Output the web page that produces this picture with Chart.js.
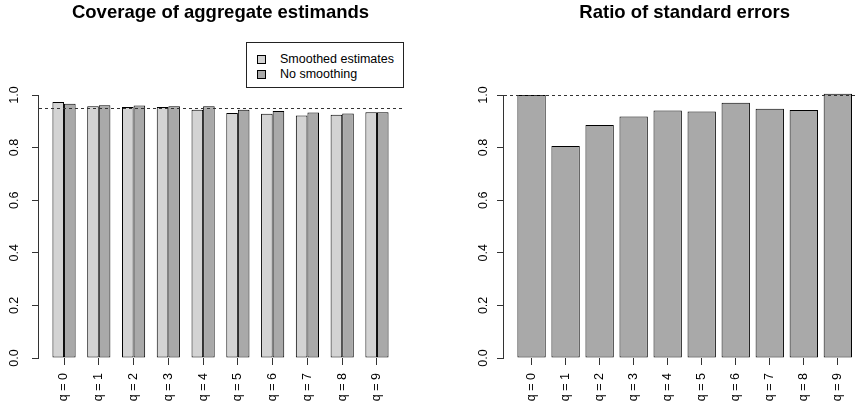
<!DOCTYPE html>
<html>
<head>
<meta charset="utf-8">
<script src="https://cdn.jsdelivr.net/npm/chart.js@4.4.1/dist/chart.umd.min.js"></script>
<style>
  html, body { margin:0; padding:0; background:#fff; overflow:hidden; width:856px; height:405px; }
  #wrap { position:relative; width:856px; height:405px; overflow:hidden; }
  #c1 { position:absolute; left:0; top:0; }
  #c2 { position:absolute; left:440px; top:0; }
  #legend { position:absolute; left:246px; top:42px; width:158px; height:46px; box-sizing:border-box;
            border:1px solid #222; background:#fff; font:12.5px "Liberation Sans", Arial, sans-serif; color:#000; }
  .row { position:absolute; left:0; height:14px; line-height:14px; white-space:nowrap; }
  .sw { position:absolute; left:10px; top:3px; width:7px; height:7px; border:1px solid #000; }
  .lab { position:absolute; left:33px; top:0; }
</style>
</head>
<body>
<div id="wrap">
  <canvas id="c1" width="440" height="405"></canvas>
  <canvas id="c2" width="489" height="405"></canvas>
  <div id="legend"></div>
</div>
<script>
// ---- data ----
const categories = ['q = 0','q = 1','q = 2','q = 3','q = 4','q = 5','q = 6','q = 7','q = 8','q = 9'];
const smoothedCoverage    = [0.973, 0.957, 0.954, 0.954, 0.944, 0.932, 0.929, 0.922, 0.925, 0.934];
const noSmoothingCoverage = [0.967, 0.961, 0.960, 0.957, 0.957, 0.944, 0.939, 0.933, 0.930, 0.934];
const seRatio             = [1.000, 0.806, 0.886, 0.918, 0.941, 0.937, 0.971, 0.948, 0.943, 1.005];
const yTickValues = [0, 0.2, 0.4, 0.6, 0.8, 1.0];
const seriesNames = ['Smoothed estimates', 'No smoothing'];
const chartTitles = ['Coverage of aggregate estimands', 'Ratio of standard errors'];
const nominalCoverage = 0.95;
const ratioReference = 1.0;

// ---- styles ----
const FONT = '"Liberation Sans", Arial, Helvetica, sans-serif';
const colSmoothed = '#d3d3d3';
const colNoSmooth = '#a9a9a9';

const refLinePlugin = {
  id: 'refLine',
  afterDatasetsDraw(chart, args, opts) {
    const y = Math.round(chart.scales.y.getPixelForValue(opts.value)) + 0.5;
    const ctx = chart.ctx;
    ctx.save();
    ctx.beginPath();
    ctx.setLineDash([3, 3]);
    ctx.strokeStyle = '#333';
    ctx.lineWidth = 1;
    ctx.moveTo(chart.chartArea.left, y);
    ctx.lineTo(chart.chartArea.right, y);
    ctx.stroke();
    ctx.restore();
  }
};
const yAxisLinePlugin = {
  id: 'yAxisLine',
  afterDraw(chart) {
    const s = chart.scales.y;
    const x = Math.round(s.right) - 0.5;
    const ctx = chart.ctx;
    ctx.save();
    ctx.beginPath();
    ctx.strokeStyle = '#333';
    ctx.lineWidth = 1;
    ctx.moveTo(x, Math.round(s.getPixelForValue(yTickValues[0])) + 0.5);
    ctx.lineTo(x, Math.round(s.getPixelForValue(yTickValues[yTickValues.length - 1])) + 0.5);
    ctx.stroke();
    ctx.restore();
  }
};
// centre the title over the plot region (as R does)
const titleOverPlotPlugin = {
  id: 'titleOverPlot',
  afterLayout(chart) {
    const t = chart.titleBlock;
    if (!t) return;
    t.left = chart.chartArea.left;
    t.right = chart.chartArea.right;
    t.width = t.right - t.left;
  }
};

function yScale(width, pad) {
  return {
    type: 'linear', min: 0, max: 1.2,
    afterBuildTicks(s) { s.ticks = yTickValues.map(v => ({ value: v })); },
    afterFit(s) { s.width = width; },
    grid: { drawOnChartArea: false, drawTicks: true, tickLength: 7, color: '#333', lineWidth: 1 },
    border: { display: false },
    ticks: { minRotation: 90, maxRotation: 90, crossAlign: 'center', padding: pad, color: '#000',
             font: { family: FONT, size: 12.5 }, callback: v => Number(v).toFixed(1) }
  };
}
function xScale(min, max) {
  return {
    type: 'linear', min: min, max: max, offset: false,
    afterBuildTicks(s) { s.ticks = categories.map((c, i) => ({ value: i })); },
    afterFit(s) { s.height = 47; },
    grid: { offset: false, drawOnChartArea: false, drawTicks: true, tickLength: 7, color: '#333', lineWidth: 1 },
    border: { display: false },
    ticks: { autoSkip: false, includeBounds: false, minRotation: 90, maxRotation: 90, padding: 8, color: '#000',
             font: { family: FONT, size: 12.5 },
             callback: v => (Number.isInteger(v) ? categories[v] : '') }
  };
}
function titleOpts(text) {
  return { display: true, text: text, color: '#000',
           font: { family: FONT, size: 18.5, weight: 'bold' }, padding: { top: 2, bottom: 18.2 } };
}

Chart.defaults.animation = false;

new Chart(document.getElementById('c1'), {
  type: 'bar',
  data: {
    datasets: [
      { label: seriesNames[0], data: smoothedCoverage.map((v, i) => ({ x: i, y: v })),
        backgroundColor: colSmoothed, borderColor: '#000', borderWidth: 1, borderSkipped: false,
        categoryPercentage: 2/3, barPercentage: 1 },
      { label: seriesNames[1], data: noSmoothingCoverage.map((v, i) => ({ x: i, y: v })),
        backgroundColor: colNoSmooth, borderColor: '#000', borderWidth: 1, borderSkipped: false,
        categoryPercentage: 2/3, barPercentage: 1 }
    ]
  },
  options: {
    responsive: false, devicePixelRatio: 1,
    layout: { padding: { left: 0, right: 38, top: 0, bottom: 0 } },
    scales: { x: xScale(-0.72, 9.72), y: yScale(39, 9) },
    plugins: { legend: { display: false }, tooltip: { enabled: false },
               title: titleOpts(chartTitles[0]), refLine: { value: nominalCoverage } }
  },
  plugins: [refLinePlugin, yAxisLinePlugin, titleOverPlotPlugin]
});

new Chart(document.getElementById('c2'), {
  type: 'bar',
  data: {
    datasets: [
      { label: 'Ratio', data: seRatio.map((v, i) => ({ x: i, y: v })),
        backgroundColor: colNoSmooth, borderColor: '#000', borderWidth: 1, borderSkipped: false,
        categoryPercentage: 1/1.2, barPercentage: 1 }
    ]
  },
  options: {
    responsive: false, devicePixelRatio: 1,
    layout: { padding: { left: 0, right: 63.6, top: 0, bottom: 0 } },
    scales: { x: xScale(-0.81, 9.81), y: yScale(64, 5) },
    plugins: { legend: { display: false }, tooltip: { enabled: false },
               title: titleOpts(chartTitles[1]), refLine: { value: ratioReference } }
  },
  plugins: [refLinePlugin, yAxisLinePlugin, titleOverPlotPlugin]
});

// HTML legend inside the left plot region
const legendEl = document.getElementById('legend');
[colSmoothed, colNoSmooth].forEach((c, i) => {
  const row = document.createElement('div');
  row.className = 'row';
  row.style.top = (9 + i * 15) + 'px';
  row.style.width = '100%';
  const sw = document.createElement('span'); sw.className = 'sw'; sw.style.background = c;
  const lab = document.createElement('span'); lab.className = 'lab'; lab.textContent = seriesNames[i];
  row.appendChild(sw); row.appendChild(lab);
  legendEl.appendChild(row);
});
</script>
</body>
</html>
